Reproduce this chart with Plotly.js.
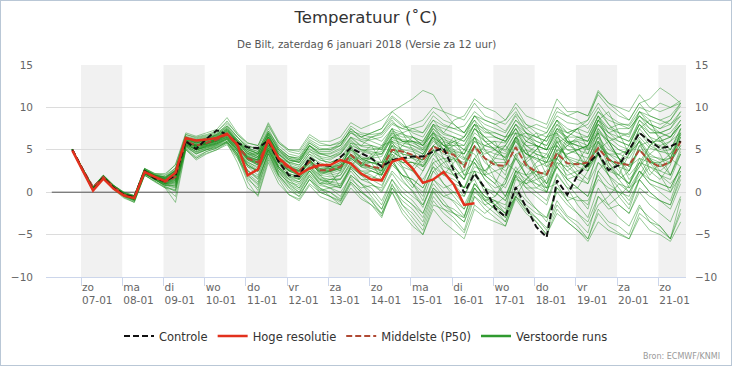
<!DOCTYPE html>
<html><head><meta charset="utf-8">
<script src="https://cdn.plot.ly/plotly-3.0.1.min.js"></script>
<style>
html,body{margin:0;padding:0;background:#fff;}
#wrap{position:relative;width:732px;height:366px;}
#chart{width:732px;height:366px;}
#frame{position:absolute;left:0;top:0;width:730px;height:364px;border:1px solid #b9c7d6;pointer-events:none;}
</style>
</head><body>
<div id="wrap"><div id="chart"></div><div id="frame"></div></div>
<script>
// time axis: first value 06-01 19:00, 6-hourly, 60 steps
const startTime = '2018-01-06T19:00:00Z';
const stepHours = 6;
const nSteps = 60;

const dayNames = ['zo','ma','di','wo','do','vr','za','zo','ma','di','wo','do','vr','za','zo'];
const dayDates = ['07-01','08-01','09-01','10-01','11-01','12-01','13-01','14-01','15-01','16-01','17-01','18-01','19-01','20-01','21-01'];
const yTicks = [-10, -5, 0, 5, 10, 15];

const controle = [5.0, 2.6,0.3,1.7,0.5, -0.3,-0.6,2.5,1.6, 1.3,2.0,6.0,5.1, 6.3,7.3,6.8,5.8, 5.3,5.2,6.1,3.6, 2.0,1.9,4.1,3.2, 3.1,4.2,5.2,4.6, 4.0,3.0,3.8,4.0, 4.2,4.2,4.8,5.2, 2.6,-0.1,2.2,0.5, -1.9,-2.9,0.6,-1.8, -4.1,-5.3,1.4,-0.3, 2.0,3.3,4.6,2.6, 3.2,5.0,7.0,6.0, 5.2,5.4,6.0];
const hogeResolutie = [4.9, 2.5,0.2,1.6,0.4, -0.4,-0.7,2.4,1.8, 1.3,2.3,6.4,6.1, 6.2,6.4,6.9,5.6, 2.0,2.7,6.2,4.0, 3.0,2.1,2.8,3.2, 3.2,3.8,3.4,2.2, 1.5,1.4,3.6,4.0, 2.8,1.1,1.5,2.4, 0.9,-1.5,-1.3];
const middelste = [5.0, 2.7,0.6,1.8,0.6, -0.3,-0.7,2.4,1.7, 1.2,1.8,6.0,5.5, 5.8,6.2,6.8,5.5, 4.0,3.5,6.0,3.8, 2.8,2.5,3.6,2.6, 2.6,3.0,4.4,3.4, 3.0,2.8,5.0,4.8, 4.4,3.8,5.4,4.8, 4.4,3.0,5.4,4.0, 3.2,3.1,5.3,3.2, 2.4,2.1,4.6,3.4, 3.3,3.5,5.2,3.8, 3.4,3.2,5.0,3.6, 3.0,3.6,6.0];

const ens01 = [5.0, 2.7,0.5,1.9,0.7, -0.2,-0.6,2.5,1.9, 1.5,2.2,6.2,5.8, 6.0,6.5,7.2,6.0, 4.8,4.2,6.5,4.5, 3.5,3.2,4.8,3.8, 3.5,4.0,5.5,5.0, 4.6,4.8,6.5,6.2, 6.0,5.5,7.0,6.2, 5.8,5.0,7.5,6.5, 5.5,4.8,7.0,5.5, 4.8,4.5,6.8,5.8, 5.5,5.2,7.5,6.0, 5.0,4.5,6.5,5.2, 4.8,5.0,7.5];
const ens02 = [5.1, 2.5,0.3,1.7,0.5, -0.4,-0.8,2.3,1.7, 1.2,1.6,5.8,5.2, 5.5,5.8,6.5,5.0, 3.2,2.5,5.5,3.0, 1.8,1.2,2.8,1.5, 1.2,1.5,3.2,2.0, 1.0,0.2,2.5,1.2, 0.2,-1.5,1.5,0.0, -1.2,-2.8,0.5,-1.0, -2.0,-3.5,-0.5,-2.2, -3.0,-4.2,-1.0,-2.8, -3.5,-4.8,-0.5,-1.5, -0.5,0.8,3.5,3.0, 2.5,2.0,4.8];
const ens03 = [4.9, 2.6,0.4,1.8,0.6, -0.3,-0.7,2.4,1.8, 1.3,1.8,6.0,5.5, 5.6,6.0,6.8,5.6, 4.2,3.8,6.2,4.0, 3.5,1.5,4.0,2.0, 1.0,2.5,5.5,3.0, 4.5,2.0,6.5,7.0, 5.0,3.0,4.5,6.0, 3.0,1.5,5.5,2.0, 4.5,5.5,4.0,2.0, 0.5,1.5,5.8,6.5, 4.5,2.5,7.0,3.5, 2.0,4.5,6.0,2.5, 1.5,3.2,7.5];
const ens04 = [5.0, 2.8,0.6,2.0,0.8, 0.0,-0.4,2.8,2.1, 2.0,2.8,6.8,6.5, 6.8,7.2,8.2,6.8, 5.5,5.0,7.2,5.5, 4.5,4.2,6.0,5.2, 5.0,5.8,7.2,6.8, 6.5,6.8,8.2,7.5, 7.2,7.0,8.5,7.8, 7.5,7.8,9.5,8.5, 8.0,7.2,9.2,8.0, 7.5,7.0,9.0,8.2, 8.0,8.5,10.5,9.0, 8.2,7.8,9.5,8.5, 8.0,8.5,10.2];
const ens05 = [5.0, 2.4,0.2,1.6,0.3, -0.7,-1.2,2.0,1.2, 0.5,0.2,5.2,4.2, 4.8,5.2,6.0,4.5, 1.5,0.5,4.5,2.0, 0.5,-0.5,1.5,0.5, 0.0,-0.8,2.0,1.0, 0.5,-1.0,1.5,-0.5, -1.5,-2.5,0.5,-1.0, -2.5,-3.0,1.0,-0.5, -1.0,-2.0,2.5,1.5, 1.0,0.0,3.5,2.0, 2.5,3.0,5.5,4.5, 4.0,3.0,5.0,3.8, 3.2,3.5,5.5];
const ens06 = [5.0, 2.6,0.5,1.8,0.7, -0.2,-0.5,2.6,2.0, 1.8,2.5,6.4,5.8, 6.2,6.6,7.5,6.0, 4.5,4.0,6.5,4.2, 3.2,2.8,4.2,3.5, 3.0,3.2,5.0,4.2, 3.8,3.5,6.0,5.5, 5.2,4.5,6.2,5.0, 4.8,4.0,6.0,5.5, 5.2,5.5,7.5,6.0, 5.5,5.0,7.0,5.8, 6.2,6.0,8.5,7.0, 6.5,6.0,8.0,6.5, 6.0,6.5,8.5];
const ens07 = [5.0, 2.7,0.5,1.8,0.6, -0.3,-0.6,2.3,1.6, 1.0,1.4,5.9,5.4, 5.8,6.0,6.5,5.2, 3.8,3.2,5.8,3.5, 2.2,1.8,3.0,2.0, 2.5,3.0,4.5,3.8, 4.2,4.5,6.2,5.8, 5.5,4.8,6.5,4.0, 3.0,1.5,4.0,2.5, 1.5,0.5,3.0,1.0, 0.0,-1.0,2.2,0.5, -1.5,-3.0,0.5,-1.5, -3.0,-4.0,-1.5,-3.5, -4.5,-5.5,-0.8];
const ens08 = [4.9, 2.5,0.4,1.7,0.5, -0.4,-0.8,2.2,1.8, 1.1,1.5,5.8,5.0, 5.5,5.9,6.6,5.4, 4.4,4.0,6.0,3.8, 2.5,2.0,3.8,2.2, 2.5,0.5,3.0,4.5, 5.5,3.5,3.8,2.0, 0.5,2.5,5.5,6.5, 5.0,2.0,4.0,5.5, 6.0,3.5,2.5,3.8, 5.0,6.5,7.0,3.5, 2.0,1.0,5.0,6.0, 4.0,1.5,3.0,5.5, 6.5,4.0,3.0];
const ens09 = [5.0, 2.7,0.6,1.9,0.6, -0.3,-0.6,2.6,1.8, 1.4,2.0,6.2,5.8, 6.2,6.8,7.8,6.5, 5.2,4.5,7.0,5.0, 3.8,3.5,5.5,4.5, 4.5,5.0,6.5,6.0, 6.2,6.5,8.0,7.5, 8.0,8.5,10.0,9.5, 9.0,8.5,10.5,9.0, 8.5,8.0,9.5,7.5, 6.5,6.0,8.0,7.0, 7.5,8.5,11.8,10.5, 9.5,8.5,10.5,9.0, 8.5,9.0,10.5];
const ens10 = [5.0, 2.5,0.3,1.7,0.4, -0.5,-1.0,2.2,1.5, 0.8,0.8,5.5,4.8, 5.2,5.5,6.2,4.8, 2.5,1.8,5.0,2.8, 1.2,0.8,2.5,1.2, 0.8,0.5,2.8,1.5, 1.0,0.0,2.2,0.5, -0.5,-1.5,1.0,-0.5, -1.0,-2.0,0.5,-1.5, -2.5,-3.5,0.0,-1.8, -3.0,-4.5,-1.5,-3.0, -4.0,-5.5,-2.0,-3.5, -4.0,-5.0,-1.8,-3.0, -4.0,-5.5,-2.5];
const ens11 = [5.0, 2.6,0.4,1.8,0.6, -0.3,-0.7,2.4,1.7, 1.3,2.0,6.1,5.6, 5.9,6.3,7.0,5.8, 4.0,3.8,6.8,4.2, 3.0,2.8,4.5,3.2, 2.8,3.5,5.5,4.0, 3.5,3.0,5.8,4.5, 4.2,3.8,6.8,5.5, 4.5,3.2,6.5,4.0, 3.5,3.5,6.2,4.5, 3.8,3.0,5.5,4.2, 3.8,3.5,6.0,4.5, 3.5,3.2,6.2,4.5, 3.8,4.0,7.0];
const ens12 = [5.1, 2.8,0.7,2.0,0.8, -0.1,-0.5,2.6,2.0, 1.6,2.4,6.3,6.0, 6.4,6.8,7.6,6.2, 5.0,4.5,6.5,4.8, 4.0,3.5,5.0,4.5, 4.2,4.8,6.5,5.5, 5.5,5.2,7.2,6.8, 6.5,6.0,8.0,7.5, 7.0,6.5,8.5,7.2, 6.5,6.0,7.5,5.5, 4.5,4.0,6.5,5.5, 5.0,4.5,7.2,6.0, 6.5,7.0,9.5,8.0, 7.0,6.5,8.0];
const ens13 = [5.0, 2.6,0.5,1.8,0.5, -0.4,-0.9,2.3,1.6, 1.0,1.2,5.6,5.0, 5.4,5.8,6.4,5.0, 3.0,2.0,5.2,3.0, 1.5,0.5,2.5,1.0, 0.5,-0.5,2.0,1.0, 0.0,-1.5,1.5,0.0, -1.0,-2.5,0.5,-0.5, 0.0,-0.5,2.5,2.0, 2.5,3.0,5.5,4.5, 4.0,3.5,6.0,4.0, 3.5,3.0,5.8,4.0, 3.0,2.5,5.0,3.5, 3.0,3.5,6.5];
const ens14 = [5.0, 2.6,0.4,1.7,0.7, -0.2,-0.6,2.5,1.9, 1.5,2.3,6.0,5.4, 5.7,6.1,6.9,5.5, 4.2,3.5,5.8,3.5, 2.6,2.2,3.8,2.8, 2.5,2.8,4.2,3.5, 4.0,5.5,6.0,3.5, 2.5,4.0,7.0,5.0, 6.5,4.0,3.5,2.0, 1.0,3.5,6.5,4.5, 5.5,3.5,4.0,6.5, 7.5,5.0,6.0,3.0, 1.5,2.5,5.5,6.0, 4.5,2.0,4.5];
const ens15 = [5.0, 2.5,0.4,1.7,0.6, -0.3,-0.8,2.1,1.6, 0.6,0.3,5.3,4.5, 5.0,5.5,6.0,4.2, 2.0,1.0,4.8,2.5, 1.0,0.0,2.0,0.5, -0.5,-1.5,1.0,-0.5, -1.5,-3.0,0.5,-1.5, -2.5,-4.0,-0.5,-2.0, -3.0,-4.5,-0.5,-1.5, -1.0,-1.5,2.0,1.0, 1.5,2.0,5.0,4.5, 5.0,5.5,8.0,6.5, 6.0,5.5,8.5,7.5, 7.0,7.5,9.5];
const ens16 = [4.9, 2.7,0.5,1.9,0.6, -0.2,-0.6,2.6,1.9, 1.4,2.1,6.4,6.2, 6.5,6.9,8.0,6.5, 5.2,4.8,7.5,5.2, 4.2,4.0,5.8,5.0, 5.0,5.5,7.5,6.5, 6.0,5.5,7.5,6.0, 5.5,5.0,7.2,5.5, 4.8,4.5,7.0,6.0, 6.0,5.8,8.0,7.0, 6.5,6.0,8.5,7.5, 7.0,6.5,9.0,7.5, 7.0,6.8,9.0,8.0, 7.5,8.5,10.5];
const ens17 = [5.0, 2.6,0.3,1.8,0.5, -0.4,-0.8,2.3,1.7, 1.2,1.5,5.7,5.0, 5.3,5.6,6.2,4.8, 3.5,3.0,5.2,3.0, 2.0,1.5,3.0,1.8, 1.5,1.5,3.5,2.2, 1.8,1.5,4.0,2.8, 1.0,-0.5,3.5,4.0, 2.0,0.5,1.5,-1.0, -0.5,1.5,4.5,2.0, 3.5,4.5,3.0,1.0, -0.5,-2.0,2.5,4.0, 3.0,0.5,1.5,3.5, 2.0,0.0,3.0];
const ens18 = [5.0, 2.7,0.5,1.8,0.7, -0.3,-0.6,2.5,1.8, 1.6,2.6,6.2,5.2, 5.6,6.4,7.4,5.8, 4.5,4.5,6.8,4.5, 3.5,3.8,5.5,4.2, 3.0,2.5,5.8,5.5, 6.5,6.0,7.5,4.5, 2.5,1.0,4.0,2.5, 2.0,2.5,6.5,5.5, 5.0,4.0,6.5,3.5, 2.0,1.0,4.5,5.5, 6.5,6.0,9.0,6.0, 4.0,2.5,5.5,4.0, 2.0,1.5,4.5];
const ens19 = [5.0, 2.6,0.4,1.8,0.6, -0.3,-0.7,2.4,1.8, 1.3,1.7,5.9,5.5, 5.8,6.2,6.9,5.6, 4.0,3.6,6.0,4.0, 2.8,2.5,3.8,2.5, 2.4,2.8,4.5,3.5, 3.0,2.5,5.0,4.5, 4.2,3.8,5.5,4.8, 5.5,6.5,8.0,5.0, 3.5,2.0,6.5,7.0, 5.5,3.0,4.0,2.5, 3.5,5.5,8.5,6.0, 4.0,2.0,3.5,5.5, 6.5,5.0,7.0];
const ens20 = [5.0, 2.5,0.3,1.6,0.4, -0.5,-1.0,2.0,1.3, 0.5,-1.2,5.0,3.8, 4.5,5.0,5.8,3.5, 0.5,-0.3,3.8,1.5, -0.3,-0.8,1.0,0.0, -0.5,-1.0,1.5,0.5, 0.8,0.5,3.5,2.0, 1.5,0.5,3.0,1.0, -0.5,-2.0,1.0,-0.5, -1.5,-2.5,1.5,1.0, 2.0,2.5,5.5,4.0, 3.0,2.5,5.0,4.5, 4.5,5.0,7.0,5.5, 4.8,4.5,6.8];
const ens21 = [5.0, 2.7,0.6,1.9,0.8, -0.1,-0.5,2.7,2.1, 1.8,2.9,6.6,6.3, 6.6,7.0,7.8,6.5, 5.4,5.2,7.8,5.8, 4.8,4.5,6.2,5.5, 5.5,6.0,7.8,7.0, 6.8,7.0,8.8,7.8, 7.5,7.0,9.0,8.0, 7.5,7.0,9.0,8.5, 8.0,8.5,10.5,9.0, 8.5,8.0,11.0,9.5, 9.5,9.0,11.5,10.0, 9.0,8.5,10.5,11.0, 12.3,11.5,10.5];
const ens22 = [5.0, 2.6,0.4,1.7,0.5, -0.4,-0.9,2.2,1.4, 0.9,0.6,5.4,4.6, 5.0,5.3,5.9,4.5, 2.2,1.2,4.8,2.0, 0.8,0.0,1.8,0.3, 0.0,-1.0,1.2,0.0, -0.8,-2.0,0.8,-0.5, -1.5,-3.0,0.2,-1.5, -2.5,-3.5,-0.5,-2.0, -3.0,-4.0,-0.8,-2.5, -3.5,-5.0,-2.0,-3.5, -4.5,-5.5,-2.5,-4.0, -4.8,-5.5,-3.0,-4.5, -5.0,-5.8,-3.5];
const ens23 = [5.0, 2.6,0.4,1.8,0.6, -0.3,-0.7,2.5,1.8, 1.2,1.9,6.0,5.4, 5.7,6.1,6.8,5.3, 4.0,3.2,5.5,3.5, 2.5,2.0,3.2,2.5, 3.0,3.5,5.2,4.0, 3.5,3.2,5.5,4.0, 3.5,2.5,4.5,3.0, 2.5,1.5,4.0,2.0, 1.0,-0.5,2.5,0.5, -0.5,-1.5,2.0,0.5, 0.5,-0.5,3.5,2.5, 2.0,1.0,3.5,1.5, 1.0,0.5,3.0];
const ens24 = [5.0, 2.7,0.5,1.9,0.7, -0.2,-0.5,2.7,2.0, 1.7,2.6,6.5,6.0, 6.3,6.7,7.4,6.0, 4.8,4.2,6.6,4.6, 3.8,3.5,5.2,4.0, 3.8,4.5,6.2,5.0, 5.0,5.2,7.5,7.0, 7.5,7.8,9.5,8.5, 8.0,7.0,8.5,6.0, 5.0,4.0,6.0,4.5, 4.0,3.5,6.2,5.0, 4.5,4.0,6.5,5.0, 4.5,4.0,6.0,4.2, 4.0,3.5,6.0];
const ens25 = [5.0, 2.6,0.4,1.8,0.6, -0.3,-0.7,2.4,1.8, 1.3,1.9,6.0,5.5, 5.8,6.2,6.8,5.5, 4.0,3.5,6.0,3.8, 2.8,2.5,3.6,2.6, 2.6,3.0,4.4,3.4, 3.0,2.8,5.0,4.8, 4.4,3.8,5.4,4.8, 4.4,3.0,5.4,4.0, 3.2,3.1,5.3,3.2, 2.4,2.1,4.6,3.4, 3.3,3.5,5.2,3.8, 3.4,3.2,5.0,3.6, 3.0,3.6,6.0];
const ens26 = [5.0, 2.5,0.4,1.7,0.4, -0.5,-1.1,2.1,1.5, 0.7,0.1,5.1,4.0, 4.6,5.0,5.6,4.0, 1.8,0.2,4.0,1.8, 0.2,-0.5,1.5,0.2, 0.5,0.8,3.0,2.0, 2.5,2.0,4.0,1.5, 0.0,-1.8,1.5,0.5, 1.0,0.5,3.5,1.5, 0.0,-1.0,2.0,-0.5, -2.0,-3.5,0.5,-1.0, -0.5,-1.5,2.5,1.0, 0.0,-1.5,1.5,0.0, -1.0,-2.0,1.0];
const ens27 = [5.0, 2.7,0.5,1.9,0.7, -0.2,-0.6,2.6,2.0, 1.6,2.5,6.3,5.9, 6.2,6.6,7.3,6.0, 5.0,4.6,7.0,5.0, 4.2,4.0,5.8,5.0, 5.2,5.5,7.0,6.5, 7.0,7.5,9.5,8.5, 6.5,5.5,7.0,5.5, 5.0,4.5,7.5,6.5, 6.5,6.0,8.0,6.0, 5.5,5.0,7.5,6.5, 7.5,8.0,10.0,8.0, 6.5,6.0,8.5,7.0, 7.0,6.5,8.0];
const ens28 = [5.0, 2.5,0.4,1.7,0.5, -0.4,-0.8,2.3,1.7, 1.1,1.4,5.8,5.2, 5.6,5.9,6.6,5.2, 3.6,2.8,5.5,3.2, 2.2,1.8,3.2,2.0, 1.8,2.0,3.8,2.5, 2.0,1.2,3.5,2.0, 1.5,0.5,3.0,2.0, 3.5,5.0,6.5,4.0, 1.5,-0.5,2.0,3.5, 4.5,2.0,5.0,1.5, 0.5,2.5,4.5,2.0, -0.5,-2.0,1.5,3.0, 2.0,1.0,2.5];
const ens29 = [5.0, 2.6,0.5,1.8,0.6, -0.3,-0.7,2.4,1.8, 1.4,2.0,6.1,5.6, 5.9,6.3,7.0,5.7, 4.3,3.8,6.2,4.0, 3.0,2.5,4.0,3.0, 2.8,3.2,5.0,4.0, 4.0,4.2,6.5,6.0, 6.0,5.5,7.5,6.5, 6.0,5.5,8.0,7.5, 7.0,6.5,8.5,7.0, 6.5,7.0,9.5,9.0, 9.5,9.0,12.0,10.5, 10.0,9.5,11.5,10.0, 9.5,10.0,10.8];
const ens30 = [5.0, 2.6,0.3,1.7,0.5, -0.4,-0.8,2.2,1.6, 1.0,1.0,5.6,5.0, 5.3,5.7,6.3,4.8, 3.0,2.5,5.0,2.5, 1.5,1.0,2.5,1.0, 1.0,0.5,2.5,1.0, -0.5,-2.0,1.0,-1.5, -3.0,-4.5,-1.0,-2.5, -3.5,-4.8,-1.5,-2.5, -1.5,-0.5,2.5,2.0, 2.5,2.0,4.0,2.5, 1.5,1.0,3.5,2.0, 1.0,0.0,2.5,1.0, 0.5,0.0,2.0];
const ens31 = [5.0, 2.7,0.5,1.9,0.7, -0.2,-0.6,2.5,1.9, 1.5,2.2,6.2,5.7, 6.0,6.4,7.1,5.8, 4.6,4.2,6.4,4.4, 3.4,3.0,4.5,3.8, 3.5,4.0,5.8,4.8, 4.5,4.5,6.5,5.5, 5.0,4.5,6.5,5.5, 5.5,5.5,7.5,6.0, 5.0,4.5,6.5,5.0, 4.5,4.0,6.5,5.0, 5.0,5.5,8.0,6.5, 5.5,5.0,7.5,6.0, 5.5,6.0,8.0];
const ens32 = [5.0, 2.6,0.4,1.8,0.6, -0.3,-0.7,2.4,1.8, 1.2,1.6,5.9,5.3, 5.7,6.0,6.7,5.4, 3.8,3.4,5.8,3.6, 2.6,2.4,3.4,2.4, 2.2,2.6,4.0,3.0, 2.8,2.2,4.5,3.5, 3.5,3.0,5.0,4.0, 3.8,3.2,5.5,4.5, 5.0,6.5,7.0,3.5, 1.5,0.5,4.0,5.5, 6.0,4.5,8.5,9.5, 7.0,4.5,6.0,4.0, 2.5,3.5,5.5];
const ens33 = [5.0, 2.5,0.4,1.7,0.5, -0.4,-0.9,2.2,1.5, 0.8,0.9,5.5,4.8, 5.2,5.6,6.3,4.5, 2.5,1.5,4.5,2.2, 1.2,0.5,2.2,1.0, 1.5,2.0,4.0,3.2, 3.5,3.5,6.0,5.0, 4.0,3.0,5.0,2.5, 1.0,-0.5,2.0,0.5, 0.0,-1.0,1.8,0.5, 0.5,0.0,3.5,3.0, 3.5,3.0,4.5,2.0, 0.5,-1.0,1.5,0.0, -1.0,-1.5,2.0];
const ens34 = [5.0, 2.7,0.6,2.0,0.8, -0.1,-0.4,2.8,2.2, 2.2,3.2,6.8,6.4, 6.7,7.1,8.4,6.8, 5.8,5.5,8.2,6.0, 5.0,4.8,6.5,5.8, 5.5,5.8,7.2,6.0, 5.5,5.0,7.0,6.5, 6.5,6.0,8.0,7.0, 8.5,9.0,11.0,10.0, 9.5,8.5,10.0,8.0, 7.0,6.5,8.5,7.0, 6.5,6.0,8.5,7.5, 8.0,8.0,10.0,9.5, 10.5,10.0,10.5];
const ens35 = [5.0, 2.5,0.3,1.6,0.4, -0.6,-1.2,2.0,1.3, 0.6,-0.5,5.0,4.0, 4.8,5.2,5.8,4.2, 1.2,-0.5,3.5,1.0, -0.3,-1.0,0.8,-0.5, -1.0,-1.5,0.5,-0.8, -1.5,-2.5,0.5,-1.0, -2.0,-3.5,0.0,-1.5, -2.0,-3.0,0.5,-0.8, -1.5,-2.5,0.5,-1.0, -2.0,-3.0,0.0,-1.5, -2.5,-3.5,-0.5,-2.0, -1.5,-2.5,0.5,-0.5, -1.0,-1.5,1.5];
const ens36 = [5.0, 2.6,0.5,1.8,0.6, -0.3,-0.7,2.4,1.8, 1.3,1.8,6.0,5.5, 5.8,6.2,6.9,5.5, 4.1,3.7,6.1,3.9, 2.9,2.6,3.7,2.7, 2.7,3.1,4.5,3.5, 3.5,1.5,4.0,5.5, 6.5,5.5,8.0,6.0, 4.0,2.5,3.5,1.5, 0.5,1.0,4.0,3.0, 2.0,0.0,3.0,4.5, 5.0,5.5,7.0,4.0, 3.0,4.5,7.5,8.5, 6.0,5.0,7.5];
const ens37 = [5.0, 2.7,0.5,1.9,0.7, -0.2,-0.6,2.6,2.0, 1.7,2.5,6.4,5.9, 6.1,6.5,7.3,6.0, 4.8,4.4,6.8,4.8, 3.8,3.6,5.4,4.6, 4.2,4.6,6.4,5.4, 5.2,5.0,7.0,6.0, 5.8,5.2,7.8,6.8, 6.5,6.0,8.0,6.5, 5.5,5.0,7.0,6.5, 6.0,5.5,8.0,6.0, 5.5,5.0,7.0,6.0, 5.0,4.5,7.0,6.0, 6.0,6.5,8.0];
const ens38 = [5.0, 2.5,0.3,1.7,0.5, -0.4,-0.9,2.2,1.6, 0.9,1.1,5.7,5.0, 5.4,5.7,6.4,5.0, 3.2,2.5,5.0,2.8, 1.8,1.5,2.8,1.5, 1.2,1.0,3.0,2.0, 1.5,0.8,3.2,2.0, 1.0,0.0,2.5,1.0, 0.0,-1.5,1.0,-0.5, -1.0,-2.5,-0.5,1.5, 2.5,0.5,1.0,-1.0, -2.5,-4.0,-1.5,-0.5, 1.0,0.5,2.5,1.0, 0.0,-1.0,2.5];
const ens39 = [5.0, 2.6,0.4,1.7,0.5, -0.4,-0.8,2.3,1.6, 1.0,0.7,5.5,4.7, 5.1,5.4,6.0,4.6, 2.6,1.6,4.6,2.4, 1.0,0.3,2.0,0.8, 0.5,0.0,1.8,0.2, -1.0,-2.5,0.0,-2.0, -3.5,-5.0,-2.0,-3.5, -4.5,-5.5,-2.0,-3.0, -3.5,-4.0,-0.5,-1.5, -2.5,-3.0,0.5,-0.5, -1.0,-1.0,1.5,0.5, 0.0,-0.5,2.5,1.5, 1.0,0.5,3.0];
const ens40 = [5.0, 2.7,0.6,1.9,0.7, -0.2,-0.5,2.7,2.0, 1.8,2.7,6.5,6.1, 6.4,6.8,7.7,6.2, 5.2,4.8,7.2,5.2, 4.2,3.8,5.5,4.6, 4.6,5.2,7.0,6.2, 6.5,7.0,8.5,7.0, 6.0,5.0,6.5,5.5, 6.0,6.5,9.0,8.0, 7.5,7.0,9.0,7.0, 6.0,5.5,7.5,6.0, 6.0,5.5,8.0,7.0, 7.5,7.5,9.0,7.5, 6.5,7.0,8.5];
const ens41 = [5.0, 2.6,0.4,1.8,0.6, -0.3,-0.7,2.4,1.7, 1.2,1.7,5.9,5.4, 5.7,6.0,6.7,5.3, 3.8,3.2,5.6,3.4, 2.5,2.1,3.5,2.3, 2.0,2.3,4.0,3.0, 2.5,2.0,4.2,3.5, 3.5,3.2,5.5,4.5, 4.0,3.5,5.5,3.5, 2.5,1.5,4.0,2.0, 1.0,0.5,3.0,1.5, 0.5,-0.5,2.0,0.0, -1.5,-2.5,0.0,-1.5, -2.5,-3.5,-0.5];
const ens42 = [5.0, 2.8,0.6,2.0,0.8, 0.0,-0.4,2.8,2.2, 2.0,3.3,7.0,6.6, 7.0,7.4,8.8,7.0, 5.8,5.5,8.0,5.8, 5.0,5.0,6.8,6.0, 6.0,6.5,8.2,7.5, 8.0,8.5,9.5,10.2, 11.0,12.0,11.5,9.5, 8.0,7.0,9.0,7.5, 6.5,6.0,8.0,6.5, 5.5,5.0,7.5,7.0, 7.5,7.0,9.5,8.5, 8.0,7.5,9.0,8.0, 7.5,8.0,9.5];
const ens43 = [5.0, 2.6,0.4,1.7,0.5, -0.4,-0.8,2.3,1.7, 1.1,1.3,5.8,5.1, 5.5,5.8,6.5,5.1, 3.4,2.6,5.3,3.0, 2.0,1.6,3.0,1.6, 1.5,1.6,3.5,2.5, 2.5,2.0,4.5,3.0, 2.5,1.5,3.5,2.0, 1.5,0.5,3.0,2.5, 4.0,5.5,7.5,5.0, 2.5,1.0,4.0,6.0, 5.5,3.0,4.5,2.5, 3.5,5.5,8.0,6.5, 5.0,6.0,7.0];
const ens44 = [5.0, 2.6,0.4,1.8,0.6, -0.3,-0.7,2.4,1.8, 1.3,1.8,6.0,5.4, 5.7,6.1,6.8,5.4, 3.9,3.4,5.8,3.6, 2.6,2.2,3.4,2.4, 2.4,2.8,4.2,3.2, 2.8,2.5,4.8,4.0, 4.0,3.5,5.0,3.5, 2.0,0.5,2.5,0.0, -1.5,-3.0,-0.5,-2.0, -3.5,-5.0,-2.5,-3.5, -4.5,-5.8,-3.5,-4.5, -5.0,-5.5,-2.5,-3.5, -4.0,-5.5,-2.0];
const ens45 = [5.0, 2.6,0.4,1.8,0.6, -0.3,-0.7,2.5,1.9, 1.4,2.0,6.1,5.6, 5.9,6.3,7.0,5.6, 4.2,3.8,6.2,4.0, 3.0,2.6,3.8,2.8, 2.8,3.3,4.8,3.8, 3.5,3.2,5.5,5.0, 4.8,4.2,6.0,5.0, 4.6,3.8,6.0,4.8, 4.0,3.8,6.0,4.0, 5.0,6.5,8.5,6.0, 4.5,3.0,6.0,4.0, 2.5,1.0,3.0,4.5, 5.5,4.0,6.8];
const ens46 = [5.0, 2.5,0.4,1.7,0.5, -0.4,-0.9,2.2,1.5, 0.8,0.5,5.4,4.5, 5.0,5.3,5.9,4.3, 2.0,0.8,4.2,2.0, 0.6,-0.2,1.5,0.0, -0.5,-1.2,1.2,0.0, -1.0,-2.8,0.0,-2.5, -4.0,-5.0,-1.5,-2.0, -2.5,-3.5,0.0,-1.0, -2.0,-3.0,0.5,1.5, 3.0,3.5,6.0,4.0, 2.5,1.5,4.5,3.0, 2.0,1.0,4.0,3.5, 3.5,4.0,6.5];
const ens47 = [5.0, 2.7,0.5,1.9,0.7, -0.2,-0.6,2.6,1.9, 1.5,2.3,6.3,5.8, 6.1,6.5,7.2,5.9, 4.6,4.0,6.5,4.5, 3.6,3.2,4.8,4.2, 4.0,4.5,6.0,5.0, 4.8,4.5,6.8,6.0, 6.0,5.8,7.5,6.0, 5.5,4.5,6.5,5.0, 4.5,4.2,6.5,5.5, 5.5,5.0,7.2,6.5, 6.5,6.5,9.0,7.0, 6.0,5.5,8.0,7.0, 7.0,7.5,9.0];
const ens48 = [5.0, 2.5,0.4,1.7,0.5, -0.4,-0.8,2.2,1.6, 1.0,1.2,5.6,5.0, 5.4,5.7,6.3,5.0, 3.2,2.4,5.0,2.8, 1.6,1.2,2.6,1.4, 1.0,0.8,2.8,1.5, 1.5,2.5,5.5,3.0, 1.0,-1.0,2.5,3.5, 4.0,2.0,2.5,0.5, -0.5,1.0,4.5,5.0, 3.0,1.0,3.0,1.5, 2.0,4.0,6.5,3.5, 1.5,0.0,2.0,4.0, 3.5,2.0,5.2];
const ens49 = [5.0, 2.7,0.6,1.9,0.7, -0.2,-0.5,2.6,2.0, 1.7,2.6,6.5,6.0, 6.3,6.7,7.5,6.1, 5.0,4.6,7.0,5.0, 4.0,3.8,5.5,4.8, 4.8,5.5,7.5,6.5, 7.0,7.5,9.0,8.0, 7.0,6.5,8.5,7.0, 6.5,6.0,8.0,7.0, 7.0,6.5,8.5,7.5, 8.0,7.5,10.0,9.0, 8.5,7.5,9.5,8.0, 7.0,6.5,9.5,9.0, 8.5,8.0,9.0];
const ens50 = [5.0, 2.6,0.4,1.8,0.6, -0.3,-0.7,2.4,1.8, 1.3,1.9,6.0,5.5, 5.8,6.2,6.9,5.4, 4.0,3.4,5.9,3.8, 2.7,2.4,3.6,2.6, 2.5,2.9,4.3,3.2, 3.0,2.6,4.8,4.0, 3.0,4.5,6.5,5.0, 6.0,5.0,4.5,2.5, 3.5,2.5,4.0,6.0, 7.0,5.0,5.5,3.0, 2.0,3.5,7.5,5.5, 4.0,3.0,4.0,2.0, 3.5,4.5,6.0];

const ensemble = [ens01,ens02,ens03,ens04,ens05,ens06,ens07,ens08,ens09,ens10,ens11,ens12,ens13,ens14,ens15,ens16,ens17,ens18,ens19,ens20,ens21,ens22,ens23,ens24,ens25,ens26,ens27,ens28,ens29,ens30,ens31,ens32,ens33,ens34,ens35,ens36,ens37,ens38,ens39,ens40,ens41,ens42,ens43,ens44,ens45,ens46,ens47,ens48,ens49,ens50];

function fmt(d){ return d.toISOString().slice(0,16).replace('T',' '); }
const t0 = new Date(startTime).getTime();
const times = [];
for (let i = 0; i < nSteps; i++) times.push(fmt(new Date(t0 + i*stepHours*3600000)));

const tickVals = dayDates.map(s => '2018-01-' + s.slice(0,2) + ' 00:00');
const tickText = dayNames.map((n,i) => n + '<br>' + dayDates[i]);

const traces = [];
ensemble.forEach((m, i) => {
  traces.push({x: times.slice(0, m.length), y: m, type: 'scatter', mode: 'lines',
    line: {color: 'rgba(25,140,25,0.45)', width: 1}, showlegend: false, hoverinfo: 'skip', legendgroup: 'ens'});
});
traces.push({x: [times[0]], y: [null], type:'scatter', mode:'lines', name:'Verstoorde runs',
  line:{color:'#2f9a2f', width:2.5}, legendgroup:'ens', legendrank: 4});
traces.push({x: times.slice(0, middelste.length), y: middelste, type:'scatter', mode:'lines', name:'Middelste (P50)',
  line:{color:'#b04a34', width:2, dash:'6px,3px'}, legendrank: 3});
traces.push({x: times.slice(0, controle.length), y: controle, type:'scatter', mode:'lines', name:'Controle',
  line:{color:'#111111', width:2, dash:'6px,3px'}, legendrank: 1});
traces.push({x: times.slice(0, hogeResolutie.length), y: hogeResolutie, type:'scatter', mode:'lines', name:'Hoge resolutie',
  line:{color:'#e2311d', width:2.5}, legendrank: 2});
traces.push({x: [times[0]], y: [0], type:'scatter', mode:'markers', yaxis:'y2', marker:{opacity:0}, showlegend:false, hoverinfo:'skip'});

const shapes = [];
for (let i = 0; i < dayDates.length; i += 2) {
  const d = parseInt(dayDates[i].slice(0,2));
  shapes.push({type:'rect', xref:'x', yref:'paper', x0: '2018-01-' + String(d).padStart(2,'0') + ' 00:00',
    x1: '2018-01-' + String(d+1).padStart(2,'0') + ' 00:00', y0: 0, y1: 1, fillcolor:'#f1f1f1', line:{width:0}, layer:'below'});
}
shapes.push({type:'line', xref:'x', yref:'y', x0:'2018-01-06 07:00', x1:'2018-01-20 18:00', y0:0, y1:0,
  line:{color:'#555', width:1}, layer:'between'});

const axFont = {family:'DejaVu Sans, sans-serif', size:10.5, color:'#666'};
const layout = {
  width: 732, height: 366,
  margin: {l:46, r:46, t:65, b:89, pad:0},
  paper_bgcolor:'#fff', plot_bgcolor:'#fff',
  font: {family:'DejaVu Sans, sans-serif', color:'#333'},
  title: {text:'Temperatuur (˚C)', x:0.5, xanchor:'center', y: 1 - 17/366, yanchor:'middle', yref:'container',
    font:{family:'DejaVu Sans, sans-serif', size:16.5, color:'#333'}},
  xaxis: {type:'date', range:['2018-01-06 03:38','2018-01-21 16:05'], tickmode:'array', tickvals: tickVals, ticktext: tickText,
    ticks:'outside', ticklen:8, tickcolor:'#ccd6eb', showgrid:false, showline:true, linecolor:'#ccd6eb', zeroline:false,
    ticklabelposition:'outside right', tickfont: axFont, fixedrange:true},
  yaxis: {range:[-10,15], tickmode:'array', tickvals: yTicks, showgrid:true, gridcolor:'#dcdcdc', zeroline:false,
    ticks:'', tickfont: axFont, ticklabelstandoff: 12, fixedrange:true},
  yaxis2: {range:[-10,15], tickmode:'array', tickvals: yTicks, overlaying:'y', side:'right', showgrid:false, zeroline:false,
    ticks:'', tickfont: axFont, ticklabelstandoff: 8, fixedrange:true},
  shapes: shapes,
  showlegend: true,
  legend: {orientation:'h', x:0.5, xanchor:'center', y:(277-336)/212, yanchor:'middle', font:{size:11.5, color:'#333', family:'DejaVu Sans, sans-serif'},
    traceorder:'normal', itemwidth:30, bgcolor:'rgba(0,0,0,0)'},
  annotations: [
    {text:'De Bilt, zaterdag 6 januari 2018 (Versie za 12 uur)', xref:'paper', yref:'paper', x:0.5, y:(277-44)/212,
      xanchor:'center', yanchor:'middle', showarrow:false, font:{size:10.3, color:'#555', family:'DejaVu Sans, sans-serif'}},
    {text:'Bron: ECMWF/KNMI', xref:'paper', yref:'paper', x:(722-46)/640, y:(277-356)/212, xanchor:'right', yanchor:'middle',
      showarrow:false, font:{size:8, color:'#999', family:'DejaVu Sans, sans-serif'}}
  ]
};
Plotly.newPlot('chart', traces, layout, {displayModeBar:false, staticPlot:true});
</script>
</body></html>
